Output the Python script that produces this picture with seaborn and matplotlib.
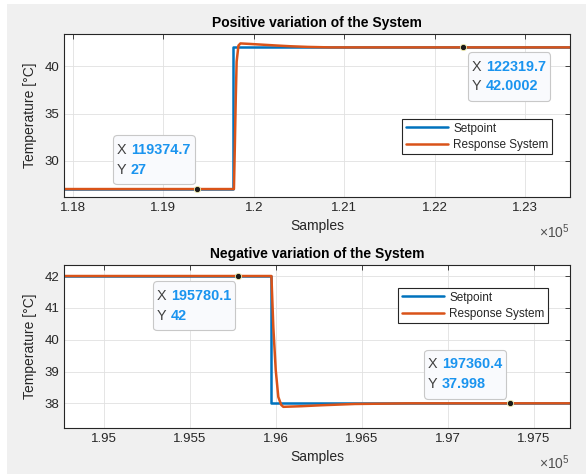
import numpy as np
import pandas as pd
import seaborn as sns
import matplotlib
matplotlib.use("Agg")
import matplotlib.pyplot as plt
from matplotlib.patches import Rectangle
from matplotlib.offsetbox import (TextArea, HPacker, VPacker, AnnotationBbox,
                                  DrawingArea)

# ---- data ----
# positive step
pos_set_x = [117900, 119772, 119772, 123500]
pos_set_y = [27, 27, 42, 42]
pos_resp_x = [117900, 119780, 119790, 119800, 119810, 119830, 119852, 119950,
              120074, 120250, 120406, 120600, 120849, 123500]
pos_resp_y = [27, 27, 31.5, 36.5, 40.5, 42.2, 42.42, 42.37,
              42.3, 42.2, 42.12, 42.05, 42.0, 42.0]
pos_tips = [(119374.7, 27), (122319.7, 42.0002)]
pos_xticks = [118000, 119000, 120000, 121000, 122000, 123000]
pos_xticklabels = ["1.18", "1.19", "1.2", "1.21", "1.22", "1.23"]
pos_yticks = [30, 35, 40]

# negative step
neg_set_x = [194767, 195971, 195971, 197709]
neg_set_y = [42, 42, 38, 38]
neg_resp_x = [194767, 195973, 195984, 195998, 196013, 196030, 196042,
              196150, 196266, 196459, 196620, 196767, 197709]
neg_resp_y = [42, 42, 40.4, 39.05, 38.2, 37.95, 37.89,
              37.91, 37.94, 37.98, 37.99, 38.0, 38.0]
neg_tips = [(195780.1, 42), (197360.4, 37.998)]
neg_xticks = [195000, 195500, 196000, 196500, 197000, 197500]
neg_xticklabels = ["1.95", "1.955", "1.96", "1.965", "1.97", "1.975"]
neg_yticks = [38, 39, 40, 41, 42]

BLUE = "#0072BD"
ORANGE = "#D95319"
DARK = "#262626"
PAD = 5.0  # datatip frame padding, points


def datatip(ax, x, y, align, gap):
    rows = []
    for k, v in (("X", x), ("Y", y)):
        rows.append(HPacker(children=[
            TextArea(k + " ", textprops=dict(color="#404040", fontsize=10.4)),
            TextArea("%.7g" % v, textprops=dict(color="#1a94ef",
                                                 fontsize=10.4,
                                                 fontweight="bold"))],
            pad=0, sep=0, align="baseline"))
    inner = VPacker(children=rows, pad=0, sep=4, align="left")
    # extra vertical room above and below the two lines
    box = VPacker(children=[DrawingArea(1, 0), inner, DrawingArea(1, 0)],
                  pad=0, sep=2.6, align="left")
    # shift so the frame (not the text) touches the marker
    dx = (PAD + gap[0]) * (1 if align[0] == 0 else -1)
    dy = (PAD + gap[1]) * (1 if align[1] == 0 else -1)
    ab = AnnotationBbox(box, (x, y), xybox=(dx, dy), xycoords="data",
                        boxcoords="offset points", box_alignment=align,
                        pad=PAD / 10, frameon=True,
                        bboxprops=dict(boxstyle="round,rounding_size=0.25",
                                       fc="#f9fafd", ec="#c8c8c8", lw=0.8))
    ax.add_artist(ab)
    ax.plot([x], [y], "o", ms=4.5, mfc="#1a1a1a", mec="#f5f0b0", mew=0.6,
            zorder=6)


def panel(ax, sx, sy, rx, ry, title, xlim, ylim, xticks, xlabels, yticks,
          legend_anchor):
    d1 = pd.DataFrame({"x": sx, "y": sy})
    d2 = pd.DataFrame({"x": rx, "y": ry})
    sns.lineplot(data=d1, x="x", y="y", ax=ax, color=BLUE, lw=1.8,
                 estimator=None, sort=False, label="Setpoint")
    sns.lineplot(data=d2, x="x", y="y", ax=ax, color=ORANGE, lw=1.8,
                 estimator=None, sort=False, label="Response System")
    ax.set_xlim(*xlim)
    ax.set_ylim(*ylim)
    ax.set_xticks(xticks)
    ax.set_xticklabels(xlabels)
    ax.set_yticks(yticks)
    ax.set_title(title, fontsize=10, fontweight="bold", color="black", pad=5)
    ax.set_xlabel("Samples", fontsize=10, color=DARK, labelpad=4)
    ax.set_ylabel("Temperature [°C]", fontsize=10, color=DARK, labelpad=5)
    ax.tick_params(direction="in", length=3.5, width=0.6, colors=DARK,
                   labelsize=9.5, top=True, right=True, labelcolor=DARK)
    ax.grid(True, color="#e1e1e1", lw=0.6)
    ax.set_facecolor("white")
    for s in ax.spines.values():
        s.set_color(DARK)
        s.set_linewidth(0.8)
    leg = ax.legend(loc="upper right", bbox_to_anchor=legend_anchor,
                    borderaxespad=0, fontsize=8.5, fancybox=False,
                    framealpha=1, edgecolor=DARK, handlelength=3.6,
                    handletextpad=0.4, borderpad=0.3, labelspacing=0.35)
    leg.get_frame().set_linewidth(0.8)
    ax.text(1.0, -0.215, r"$\times10^{5}$", transform=ax.transAxes,
            ha="right", va="center", fontsize=10, color="#505050")


def main():
    sns.set_style("white")
    plt.rcParams["font.family"] = ["Liberation Sans", "DejaVu Sans"]
    plt.rcParams["mathtext.fontset"] = "custom"
    plt.rcParams["mathtext.rm"] = "Liberation Sans"

    fig = plt.figure(figsize=(5.86, 4.74), dpi=100, facecolor="white")
    fig.patches.append(Rectangle((7 / 586, 0), 1, 470 / 474,
                                 transform=fig.transFigure, fc="#f0f0f0",
                                 ec="none", zorder=-10))
    ax1 = fig.add_axes([0.1092, 0.5844, 0.8635, 0.3439])
    ax2 = fig.add_axes([0.1092, 0.0970, 0.8635, 0.3439])

    panel(ax1, pos_set_x, pos_set_y, pos_resp_x, pos_resp_y,
          "Positive variation of the System", (117900, 123498),
          (26.16, 43.42), pos_xticks, pos_xticklabels, pos_yticks,
          (0.9644, 0.4785))
    datatip(ax1, *pos_tips[0], align=(1, 0), gap=(0, 1.4))
    datatip(ax1, *pos_tips[1], align=(0, 1), gap=(1.4, 1.4))

    panel(ax2, neg_set_x, neg_set_y, neg_resp_x, neg_resp_y,
          "Negative variation of the System", (194767, 197709),
          (37.224, 42.346), neg_xticks, neg_xticklabels, neg_yticks,
          (0.9565, 0.859))
    datatip(ax2, *neg_tips[0], align=(1, 1), gap=(0, 1.8))
    datatip(ax2, *neg_tips[1], align=(1, 0), gap=(0.7, 1.4))

    fig.savefig("out.png", dpi=100, facecolor=fig.get_facecolor())


if __name__ == "__main__":
    main()
